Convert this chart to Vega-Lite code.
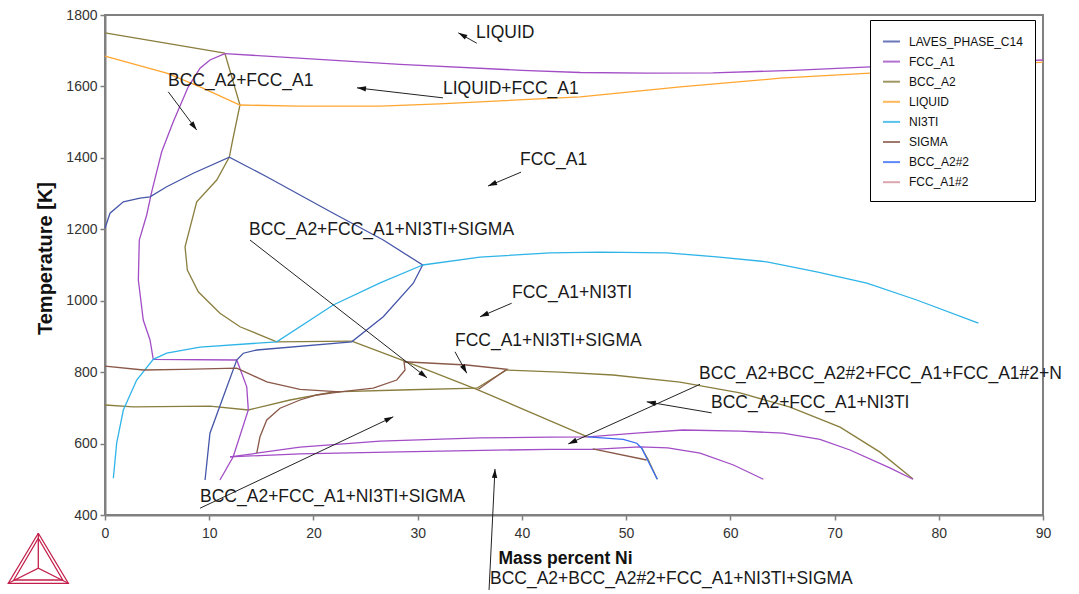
{
"$schema":"https://vega.github.io/schema/vega-lite/v6.json",
"width":938,"height":500,"autosize":"none",
"padding":{"left":105,"top":15,"right":36,"bottom":79},
"background":"white",
"config":{"font":"Liberation Sans","view":{"stroke":"#808080","strokeWidth":2}},
"datasets":{
"ln":[
{"p":"BCC_A2","s":"b1","x":0,"y":1750},{"p":"BCC_A2","s":"b1","x":11.5,"y":1693},
{"p":"BCC_A2","s":"b2","x":11.5,"y":1693},{"p":"BCC_A2","s":"b2","x":12.95,"y":1548},{"p":"BCC_A2","s":"b2","x":12.25,"y":1450},{"p":"BCC_A2","s":"b2","x":11.93,"y":1402},{"p":"BCC_A2","s":"b2","x":10.72,"y":1338},{"p":"BCC_A2","s":"b2","x":8.8,"y":1277},{"p":"BCC_A2","s":"b2","x":7.68,"y":1151},{"p":"BCC_A2","s":"b2","x":7.9,"y":1086},{"p":"BCC_A2","s":"b2","x":8.95,"y":1025},{"p":"BCC_A2","s":"b2","x":11.03,"y":965},{"p":"BCC_A2","s":"b2","x":12.95,"y":927},{"p":"BCC_A2","s":"b2","x":16.48,"y":885},{"p":"BCC_A2","s":"b2","x":23.67,"y":887},
{"p":"BCC_A2","s":"b3","x":23.67,"y":887},{"p":"BCC_A2","s":"b3","x":28.95,"y":829},{"p":"BCC_A2","s":"b3","x":35.67,"y":752},{"p":"BCC_A2","s":"b3","x":46.3,"y":619},
{"p":"BCC_A2","s":"b5","x":51.5,"y":587},{"p":"BCC_A2","s":"b5","x":52.1,"y":556},{"p":"BCC_A2","s":"b5","x":52.99,"y":500},
{"p":"BCC_A2","s":"b4","x":0,"y":708},{"p":"BCC_A2","s":"b4","x":2.72,"y":703},{"p":"BCC_A2","s":"b4","x":10.07,"y":705},{"p":"BCC_A2","s":"b4","x":13.75,"y":694},{"p":"BCC_A2","s":"b4","x":17.75,"y":722},{"p":"BCC_A2","s":"b4","x":21.9,"y":745},{"p":"BCC_A2","s":"b4","x":28.3,"y":750},{"p":"BCC_A2","s":"b4","x":35.67,"y":755},{"p":"BCC_A2","s":"b4","x":38.54,"y":806},{"p":"BCC_A2","s":"b4","x":43.66,"y":800},{"p":"BCC_A2","s":"b4","x":48.74,"y":792},{"p":"BCC_A2","s":"b4","x":55.17,"y":772},{"p":"BCC_A2","s":"b4","x":60.93,"y":742},{"p":"BCC_A2","s":"b4","x":65.73,"y":702},{"p":"BCC_A2","s":"b4","x":70.53,"y":646},{"p":"BCC_A2","s":"b4","x":74.36,"y":576},{"p":"BCC_A2","s":"b4","x":77.53,"y":501},
{"p":"LIQUID","s":"l1","x":0,"y":1685},{"p":"LIQUID","s":"l1","x":5.92,"y":1637},{"p":"LIQUID","s":"l1","x":9.12,"y":1599},{"p":"LIQUID","s":"l1","x":12.95,"y":1548},{"p":"LIQUID","s":"l1","x":18.7,"y":1545},{"p":"LIQUID","s":"l1","x":26.4,"y":1545},{"p":"LIQUID","s":"l1","x":32.1,"y":1551},{"p":"LIQUID","s":"l1","x":45.6,"y":1571},{"p":"LIQUID","s":"l1","x":55.2,"y":1599},{"p":"LIQUID","s":"l1","x":64.8,"y":1623},{"p":"LIQUID","s":"l1","x":73.4,"y":1637},{"p":"LIQUID","s":"l1","x":90,"y":1668},
{"p":"FCC_A1","s":"f1","x":11.5,"y":1692},{"p":"FCC_A1","s":"f1","x":28.3,"y":1662},{"p":"FCC_A1","s":"f1","x":40,"y":1645},{"p":"FCC_A1","s":"f1","x":45.6,"y":1639},{"p":"FCC_A1","s":"f1","x":52,"y":1637},{"p":"FCC_A1","s":"f1","x":58.3,"y":1638},{"p":"FCC_A1","s":"f1","x":66,"y":1645},{"p":"FCC_A1","s":"f1","x":73.4,"y":1655},{"p":"FCC_A1","s":"f1","x":90,"y":1674},
{"p":"FCC_A1","s":"f2","x":11.5,"y":1692},{"p":"FCC_A1","s":"f2","x":10.07,"y":1674},{"p":"FCC_A1","s":"f2","x":9.12,"y":1651},{"p":"FCC_A1","s":"f2","x":7.99,"y":1599},{"p":"FCC_A1","s":"f2","x":6.55,"y":1501},{"p":"FCC_A1","s":"f2","x":5.44,"y":1417},{"p":"FCC_A1","s":"f2","x":4.48,"y":1305},{"p":"FCC_A1","s":"f2","x":4.0,"y":1240},{"p":"FCC_A1","s":"f2","x":3.29,"y":1170},{"p":"FCC_A1","s":"f2","x":3.2,"y":1058},{"p":"FCC_A1","s":"f2","x":3.67,"y":946},{"p":"FCC_A1","s":"f2","x":4.32,"y":890},{"p":"FCC_A1","s":"f2","x":4.63,"y":836},{"p":"FCC_A1","s":"f2","x":12.64,"y":834},{"p":"FCC_A1","s":"f2","x":13.6,"y":759},{"p":"FCC_A1","s":"f2","x":13.75,"y":694},{"p":"FCC_A1","s":"f2","x":12.3,"y":563},{"p":"FCC_A1","s":"f2","x":11.03,"y":498},
{"p":"FCC_A1","s":"f5","x":12.0,"y":563},{"p":"FCC_A1","s":"f5","x":14.56,"y":573},{"p":"FCC_A1","s":"f5","x":18.71,"y":590},{"p":"FCC_A1","s":"f5","x":26.39,"y":607},{"p":"FCC_A1","s":"f5","x":35.98,"y":616},{"p":"FCC_A1","s":"f5","x":42.7,"y":618},{"p":"FCC_A1","s":"f5","x":46.34,"y":619},{"p":"FCC_A1","s":"f5","x":51.3,"y":630},{"p":"FCC_A1","s":"f5","x":55.46,"y":638},{"p":"FCC_A1","s":"f5","x":60.93,"y":635},{"p":"FCC_A1","s":"f5","x":65.05,"y":629},{"p":"FCC_A1","s":"f5","x":68.6,"y":612},{"p":"FCC_A1","s":"f5","x":71.48,"y":582},{"p":"FCC_A1","s":"f5","x":75.3,"y":532},{"p":"FCC_A1","s":"f5","x":77.53,"y":500},
{"p":"FCC_A1","s":"f6","x":11.99,"y":563},{"p":"FCC_A1","s":"f6","x":18.71,"y":571},{"p":"FCC_A1","s":"f6","x":28.3,"y":577},{"p":"FCC_A1","s":"f6","x":42.7,"y":584},{"p":"FCC_A1","s":"f6","x":46.85,"y":584},{"p":"FCC_A1","s":"f6","x":51.3,"y":591},{"p":"FCC_A1","s":"f6","x":54.0,"y":588},{"p":"FCC_A1","s":"f6","x":57.1,"y":573},{"p":"FCC_A1","s":"f6","x":60.3,"y":540},{"p":"FCC_A1","s":"f6","x":63.17,"y":500},
{"p":"LAVES_PHASE_C14","s":"la","x":0,"y":1203},{"p":"LAVES_PHASE_C14","s":"la","x":0.48,"y":1245},{"p":"LAVES_PHASE_C14","s":"la","x":1.76,"y":1277},{"p":"LAVES_PHASE_C14","s":"la","x":3.36,"y":1287},{"p":"LAVES_PHASE_C14","s":"la","x":4.32,"y":1291},{"p":"LAVES_PHASE_C14","s":"la","x":5.92,"y":1319},{"p":"LAVES_PHASE_C14","s":"la","x":8.47,"y":1357},{"p":"LAVES_PHASE_C14","s":"la","x":11.93,"y":1402},{"p":"LAVES_PHASE_C14","s":"la","x":15.52,"y":1347},{"p":"LAVES_PHASE_C14","s":"la","x":21.9,"y":1245},{"p":"LAVES_PHASE_C14","s":"la","x":26.7,"y":1170},{"p":"LAVES_PHASE_C14","s":"la","x":30.48,"y":1100},{"p":"LAVES_PHASE_C14","s":"la","x":29.58,"y":1049},{"p":"LAVES_PHASE_C14","s":"la","x":26.7,"y":955},{"p":"LAVES_PHASE_C14","s":"la","x":23.67,"y":885},{"p":"LAVES_PHASE_C14","s":"la","x":14.56,"y":862},{"p":"LAVES_PHASE_C14","s":"la","x":13.27,"y":853},{"p":"LAVES_PHASE_C14","s":"la","x":12.64,"y":834},{"p":"LAVES_PHASE_C14","s":"la","x":11.35,"y":731},{"p":"LAVES_PHASE_C14","s":"la","x":10.07,"y":629},{"p":"LAVES_PHASE_C14","s":"la","x":9.6,"y":498},
{"p":"NI3TI","s":"n1","x":30.48,"y":1100},{"p":"NI3TI","s":"n1","x":35.98,"y":1122},{"p":"NI3TI","s":"n1","x":42.7,"y":1134},{"p":"NI3TI","s":"n1","x":47.5,"y":1136},{"p":"NI3TI","s":"n1","x":53.9,"y":1134},{"p":"NI3TI","s":"n1","x":58.69,"y":1123},{"p":"NI3TI","s":"n1","x":63.5,"y":1109},{"p":"NI3TI","s":"n1","x":68.29,"y":1081},{"p":"NI3TI","s":"n1","x":73.1,"y":1049},{"p":"NI3TI","s":"n1","x":77.88,"y":1002},{"p":"NI3TI","s":"n1","x":83.8,"y":937},
{"p":"NI3TI","s":"n2","x":30.48,"y":1100},{"p":"NI3TI","s":"n2","x":26.4,"y":1050},{"p":"NI3TI","s":"n2","x":21.9,"y":988},{"p":"NI3TI","s":"n2","x":16.48,"y":885},{"p":"NI3TI","s":"n2","x":9.12,"y":870},{"p":"NI3TI","s":"n2","x":5.92,"y":853},{"p":"NI3TI","s":"n2","x":4.63,"y":836},{"p":"NI3TI","s":"n2","x":3.04,"y":778},{"p":"NI3TI","s":"n2","x":1.76,"y":694},{"p":"NI3TI","s":"n2","x":1.12,"y":601},{"p":"NI3TI","s":"n2","x":0.8,"y":503},
{"p":"SIGMA","s":"s1","x":0,"y":817},{"p":"SIGMA","s":"s1","x":3.67,"y":806},{"p":"SIGMA","s":"s1","x":7.51,"y":808},{"p":"SIGMA","s":"s1","x":12.64,"y":811},{"p":"SIGMA","s":"s1","x":15.52,"y":773},{"p":"SIGMA","s":"s1","x":18.71,"y":752},{"p":"SIGMA","s":"s1","x":22.55,"y":745},{"p":"SIGMA","s":"s1","x":25.74,"y":755},{"p":"SIGMA","s":"s1","x":27.99,"y":778},{"p":"SIGMA","s":"s1","x":28.79,"y":806},{"p":"SIGMA","s":"s1","x":28.69,"y":829},{"p":"SIGMA","s":"s1","x":34.7,"y":820},{"p":"SIGMA","s":"s1","x":38.54,"y":808},{"p":"SIGMA","s":"s1","x":35.82,"y":752},
{"p":"SIGMA","s":"s4","x":14.56,"y":573},{"p":"SIGMA","s":"s4","x":14.87,"y":619},{"p":"SIGMA","s":"s4","x":15.52,"y":666},{"p":"SIGMA","s":"s4","x":16.79,"y":699},{"p":"SIGMA","s":"s4","x":18.71,"y":722},{"p":"SIGMA","s":"s4","x":20.31,"y":736},{"p":"SIGMA","s":"s4","x":22.55,"y":745},
{"p":"SIGMA","s":"s5","x":46.8,"y":585},{"p":"SIGMA","s":"s5","x":51.97,"y":554},
{"p":"BCC_A2#2","s":"bb","x":46.34,"y":619},{"p":"BCC_A2#2","s":"bb","x":49.73,"y":612},{"p":"BCC_A2#2","s":"bb","x":51.02,"y":601},{"p":"BCC_A2#2","s":"bb","x":51.5,"y":587},{"p":"BCC_A2#2","s":"bb","x":52.3,"y":540},{"p":"BCC_A2#2","s":"bb","x":52.99,"y":500}
],
"ann":[
{"t":"LIQUID","tx":35.6,"ty":1750,"ax":35.67,"ay":1721,"hx":33.9,"hy":1750},
{"t":"BCC_A2+FCC_A1","tx":6.05,"ty":1615,"ax":6.07,"ay":1585,"hx":8.8,"hy":1478},
{"t":"LIQUID+FCC_A1","tx":32.43,"ty":1593,"ax":32.43,"ay":1568,"hx":24.18,"hy":1596},
{"t":"FCC_A1","tx":39.82,"ty":1394,"ax":39.92,"ay":1360,"hx":36.75,"hy":1321},
{"t":"BCC_A2+FCC_A1+NI3TI+SIGMA","tx":13.82,"ty":1198,"ax":13.91,"ay":1170,"hx":30.9,"hy":784},
{"t":"FCC_A1+NI3TI","tx":39.05,"ty":1022,"ax":39.02,"ay":993,"hx":35.98,"hy":955},
{"t":"FCC_A1+NI3TI+SIGMA","tx":33.58,"ty":887,"ax":33.58,"ay":857,"hx":34.71,"hy":797},
{"t":"BCC_A2+BCC_A2#2+FCC_A1+FCC_A1#2+NI3TI","tx":57.0,"ty":795,"ax":57.09,"ay":766,"hx":44.45,"hy":599},
{"t":"BCC_A2+FCC_A1+NI3TI","tx":58.15,"ty":714,"ax":58.21,"ay":686,"hx":51.98,"hy":717},
{"t":"BCC_A2+FCC_A1+NI3TI+SIGMA","tx":9.12,"ty":450,"ax":9.12,"ay":419,"hx":27.66,"hy":675},
{"t":"BCC_A2+BCC_A2#2+FCC_A1+NI3TI+SIGMA","tx":36.94,"ty":221,"ax":36.85,"ay":190,"hx":37.42,"hy":529}
],
"logo":[
{"s":"o","x":-6.4,"y":348.8},{"s":"o","x":-9.28,"y":208.8},{"s":"o","x":-3.52,"y":208.8},{"s":"o","x":-6.4,"y":348.8},
{"s":"i","x":-6.4,"y":335},{"s":"i","x":-8.75,"y":218},{"s":"i","x":-4.05,"y":218},{"s":"i","x":-6.4,"y":335},
{"s":"v","x":-6.4,"y":348.8},{"s":"v","x":-6.4,"y":250.8},
{"s":"w","x":-9.28,"y":208.8},{"s":"w","x":-6.4,"y":250.8},{"s":"w","x":-3.52,"y":208.8}
]
},
"layer":[
{"data":{"name":"ln"},
 "mark":{"type":"line","strokeWidth":1.3},
 "encoding":{
  "x":{"field":"x","type":"quantitative","title":"Mass percent Ni","scale":{"domain":[0,90],"nice":false,"zero":false},
   "axis":{"values":[0,10,20,30,40,50,60,70,80,90],"format":"d","grid":false,"domainColor":"#808080","domainWidth":2,"tickColor":"#808080","tickWidth":1.5,"tickSize":5,"labelFontSize":14,"labelColor":"#333333","labelPadding":6,"labelFlush":false,"labelOverlap":false,"titleFontSize":17.5,"titleFontWeight":"bold","titleColor":"#111111","titleX":460,"titleY":48,"titleBaseline":"alphabetic","titleAlign":"center"}},
  "y":{"field":"y","type":"quantitative","title":"Temperature [K]","scale":{"domain":[400,1800],"nice":false,"zero":false},
   "axis":{"values":[400,600,800,1000,1200,1400,1600,1800],"format":"d","grid":false,"domainColor":"#808080","domainWidth":2,"tickColor":"#808080","tickWidth":1.5,"tickSize":5,"labelFontSize":14,"labelColor":"#333333","labelPadding":3,"labelOverlap":false,"titleFontSize":20,"titleFontWeight":"bold","titleColor":"#111111","titleX":-54,"titleY":243,"titleAngle":-90,"titleBaseline":"alphabetic","titleAlign":"center"}},
  "color":{"field":"p","type":"nominal",
   "scale":{"domain":["LAVES_PHASE_C14","FCC_A1","BCC_A2","LIQUID","NI3TI","SIGMA","BCC_A2#2","FCC_A1#2"],"range":["#4656a8","#a24dc6","#8a7e3e","#ffa630","#2fb4e8","#8a5848","#3a6cf4","#d4909c"]},
   "legend":{"orient":"none","legendX":765,"legendY":5,"title":null,"symbolType":"stroke","symbolSize":289,"symbolStrokeWidth":2,"symbolOpacity":0.8,"labelFontSize":12,"labelOffset":8,"rowPadding":4.1,"padding":12,"strokeColor":"#000000","fillColor":"#ffffff","labelColor":"#111111","cornerRadius":0}},
  "detail":{"field":"s"},
  "order":{"value":null}
 }},
{"data":{"name":"logo"},
 "mark":{"type":"line","strokeWidth":1.3,"color":"#c41e4a"},
 "encoding":{
  "x":{"field":"x","type":"quantitative","title":"Mass percent Ni","scale":{"domain":[0,90],"nice":false,"zero":false}},
  "y":{"field":"y","type":"quantitative","title":"Temperature [K]","scale":{"domain":[400,1800],"nice":false,"zero":false}},
  "detail":{"field":"s"},
  "order":{"value":null}
 }},
{"data":{"name":"ann"},
 "mark":{"type":"rule","color":"#222222","strokeWidth":1},
 "encoding":{
  "x":{"field":"ax","type":"quantitative","title":"Mass percent Ni","scale":{"domain":[0,90],"nice":false,"zero":false}},
  "y":{"field":"ay","type":"quantitative","title":"Temperature [K]","scale":{"domain":[400,1800],"nice":false,"zero":false}},
  "x2":{"field":"hx"},"y2":{"field":"hy"}
 }},
{"data":{"name":"ann"},
 "transform":[{"calculate":"atan2((datum.hx-datum.ax)*10.422,(datum.hy-datum.ay)*0.3571)*180/PI","as":"ang"}],
 "mark":{"type":"point","shape":"M0,0L-0.6,2L0.6,2Z","filled":true,"size":81,"color":"#111111","opacity":1},
 "encoding":{
  "x":{"field":"hx","type":"quantitative","title":"Mass percent Ni","scale":{"domain":[0,90],"nice":false,"zero":false}},
  "y":{"field":"hy","type":"quantitative","title":"Temperature [K]","scale":{"domain":[400,1800],"nice":false,"zero":false}},
  "angle":{"field":"ang","type":"quantitative","scale":null}
 }},
{"data":{"name":"ann"},
 "transform":[{"filter":"datum.t !== 'BCC_A2+BCC_A2#2+FCC_A1+FCC_A1#2+NI3TI'"}],
 "mark":{"type":"text","align":"left","baseline":"middle","fontSize":17.5,"color":"#1a1a1a"},
 "encoding":{
  "x":{"field":"tx","type":"quantitative","title":"Mass percent Ni","scale":{"domain":[0,90],"nice":false,"zero":false}},
  "y":{"field":"ty","type":"quantitative","title":"Temperature [K]","scale":{"domain":[400,1800],"nice":false,"zero":false}},
  "text":{"field":"t"}
 }},
{"data":{"name":"ann"},
 "transform":[{"filter":"datum.t === 'BCC_A2+BCC_A2#2+FCC_A1+FCC_A1#2+NI3TI'"}],
 "mark":{"type":"text","align":"left","baseline":"middle","fontSize":17.5,"color":"#1a1a1a","limit":367,"ellipsis":"\u200b"},
 "encoding":{
  "x":{"field":"tx","type":"quantitative","title":"Mass percent Ni","scale":{"domain":[0,90],"nice":false,"zero":false}},
  "y":{"field":"ty","type":"quantitative","title":"Temperature [K]","scale":{"domain":[400,1800],"nice":false,"zero":false}},
  "text":{"field":"t"}
 }}
]
}
